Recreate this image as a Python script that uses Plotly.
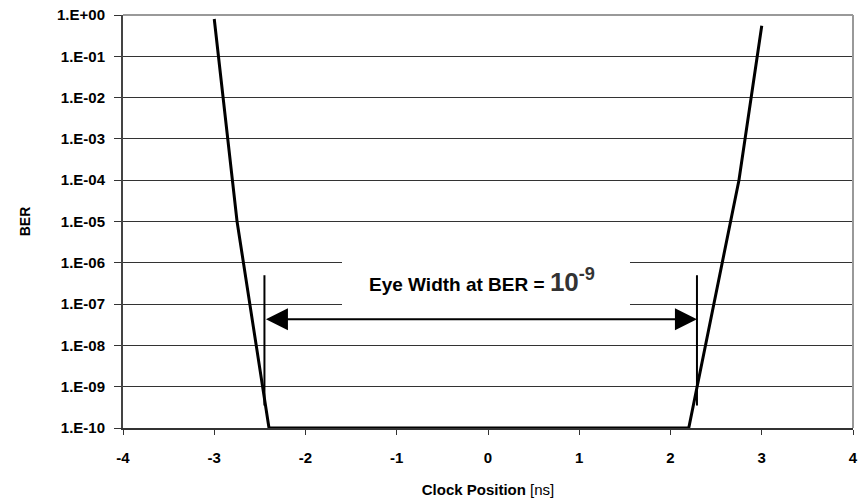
import plotly.graph_objects as go
import numpy as np

# ---- data ----
clock_pos = [-3.0, -2.75, -2.4, 2.2, 2.75, 3.0]
ber = [0.8, 1e-5, 1e-10, 1e-10, 1e-4, 0.55]

ytick_vals = [10.0 ** (-k) for k in range(0, 11)]
ytick_text = ["1.E+00", "1.E-01", "1.E-02", "1.E-03", "1.E-04", "1.E-05",
              "1.E-06", "1.E-07", "1.E-08", "1.E-09", "1.E-10"]
xtick_vals = [-4, -3, -2, -1, 0, 1, 2, 3, 4]
xtick_text = ["-4", "-3", "-2", "-1", "0", "1", "2", "3", "4"]

# eye-width markers
eye_left = -2.45
eye_right = 2.29
marker_top = 5e-7
marker_bottom = 3.5e-10
arrow_ber = 4.3e-8
label_x = -0.07
label_ber = 3.8e-7

FONT = "Liberation Sans, Arial, sans-serif"

fig = go.Figure()
fig.add_trace(go.Scatter(
    x=clock_pos, y=ber, mode="lines",
    line=dict(color="black", width=3),
    showlegend=False, hoverinfo="skip"))

# white box behind the label (covers gridlines only)
fig.add_shape(type="rect", xref="x", yref="y", layer="between",
              x0=-1.6, x1=1.556, y0=6.4e-8, y1=3.5e-6,
              fillcolor="white", line=dict(width=0))

# vertical eye-edge markers
for xm in (eye_left, eye_right):
    fig.add_shape(type="line", xref="x", yref="y", layer="above",
                  x0=xm, x1=xm, y0=marker_bottom, y1=marker_top,
                  line=dict(color="black", width=2))

# double-headed arrow
fig.add_annotation(x=eye_right, y=np.log10(arrow_ber), ax=eye_left, ay=np.log10(arrow_ber),
                   xref="x", yref="y", axref="x", ayref="y",
                   text="", showarrow=True, arrowhead=2, startarrowhead=2,
                   arrowside="end+start", arrowsize=2.2, startarrowsize=2.2,
                   arrowwidth=2, arrowcolor="black", standoff=0, startstandoff=0)

# label
fig.add_annotation(x=label_x, y=np.log10(label_ber), xref="x", yref="y",
                   showarrow=False,
                   text="<b>Eye Width at BER = </b><span style='font-size:26px;color:#333'><b>10</b><sup><b>-9</b></sup></span>",
                   font=dict(family=FONT, size=19, color="black"))

# plot-area border (top / right)
fig.add_shape(type="line", xref="x domain", yref="y domain", x0=0, x1=1, y0=1, y1=1,
              line=dict(color="#999999", width=2), layer="above")
fig.add_shape(type="line", xref="x domain", yref="y domain", x0=1, x1=1, y0=0, y1=1,
              line=dict(color="#999999", width=2), layer="above")

fig.update_layout(
    width=863, height=503,
    margin=dict(l=123, r=10, t=15, b=75, autoexpand=False),
    paper_bgcolor="white", plot_bgcolor="white",
    font=dict(family=FONT, color="black"),
    xaxis=dict(
        range=[-4, 4], tickvals=xtick_vals, ticktext=xtick_text, ticks="outside", ticklen=5,
        tickcolor="#333", tickwidth=1, showgrid=False, zeroline=False,
        showline=True, linecolor="#333", linewidth=2, automargin=False,
        tickfont=dict(family=FONT, size=15, weight="bold"),
        ticklabelstandoff=10,
        title=dict(text="<b>Clock Position</b> [ns]", font=dict(family=FONT, size=15),
                   standoff=19),
    ),
    yaxis=dict(
        type="log", range=[-10, 0], tickvals=ytick_vals, ticktext=ytick_text,
        ticks="outside", ticklen=7, tickcolor="#333", tickwidth=1,
        showgrid=True, gridcolor="#333", gridwidth=1, automargin=False,
        zeroline=False, showline=True, linecolor="#444", linewidth=2,
        tickfont=dict(family=FONT, size=15, weight="bold"),
        ticklabelstandoff=6,
        title=dict(text="<b>BER</b>", font=dict(family=FONT, size=14), standoff=23),
    ),
)

fig.write_html("out.html", config={"displayModeBar": False},
               post_script="document.body.style.margin='0';")
